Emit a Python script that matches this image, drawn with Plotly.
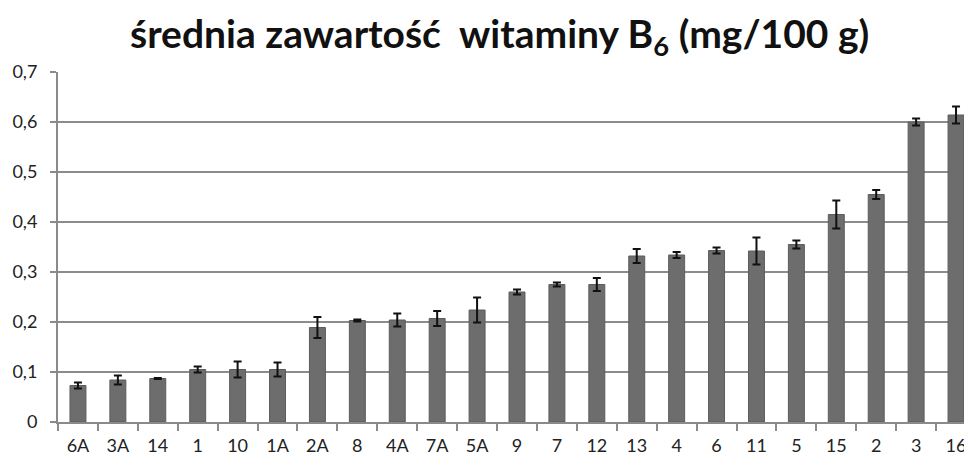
import plotly.graph_objects as go

categories = ["6A", "3A", "14", "1", "10", "1A", "2A", "8", "4A", "7A", "5A", "9", "7", "12",
              "13", "4", "6", "11", "5", "15", "2", "3", "16"]
values = [0.073, 0.084, 0.087, 0.105, 0.105, 0.105, 0.189, 0.203, 0.204, 0.207, 0.224, 0.260,
          0.275, 0.275, 0.332, 0.334, 0.343, 0.342, 0.355, 0.415, 0.455, 0.600, 0.614]
errors = [0.006, 0.009, 0.001, 0.006, 0.016, 0.014, 0.021, 0.002, 0.013, 0.015, 0.025, 0.005,
          0.004, 0.013, 0.014, 0.006, 0.006, 0.027, 0.008, 0.028, 0.009, 0.007, 0.017]
ytick_vals = [0, 0.1, 0.2, 0.3, 0.4, 0.5, 0.6, 0.7]
ytick_text = ["0", "0,1", "0,2", "0,3", "0,4", "0,5", "0,6", "0,7"]

idx = list(range(len(categories)))
xrange = [-0.5, 22.4]

fig = go.Figure(go.Bar(
    x=idx, y=values,
    width=0.4,
    marker=dict(color="#6d6d6d", line=dict(color="#5c5c5c", width=1)),
    error_y=dict(type="data", array=errors, visible=True, color="#111111", thickness=2, width=4),
))

# page body has an 8px margin, so figure is 8px smaller and margins shifted
fig.update_layout(
    template="simple_white",
    width=964, height=455,
    margin=dict(l=50, r=0, t=64, b=41),
    plot_bgcolor="white", paper_bgcolor="white",
    showlegend=False,
    title=dict(text="średnia zawartość  witaminy B<sub>6</sub> (mg/100 g)",
               font=dict(family="Lato", size=39, color="#111111", weight="bold"),
               x=0.51, xanchor="center", y=0.943, yanchor="middle"),
    font=dict(family="Lato", size=18, color="#222222"),
    xaxis=dict(
        range=xrange, tickmode="array", tickvals=idx, ticktext=categories,
        showline=True, linecolor="#8a8a8a", linewidth=2,
        ticks="", showgrid=False, zeroline=False, automargin=False,
        tickfont=dict(size=18), ticklabelstandoff=6,
        minor=dict(ticks="outside", tick0=-0.5, dtick=1, ticklen=7,
                   tickcolor="#8a8a8a", tickwidth=2, showgrid=False),
    ),
    yaxis=dict(
        range=[0, 0.7], tickmode="array", tickvals=ytick_vals, ticktext=ytick_text,
        showline=True, linecolor="#8a8a8a", linewidth=2,
        ticks="outside", ticklen=6, tickcolor="#8a8a8a", tickwidth=2,
        showgrid=True, gridcolor="#8c8c8c", gridwidth=2,
        zeroline=False, automargin=False, tickfont=dict(size=18), ticklabelstandoff=9,
    ),
)
fig.write_html("out.html")
